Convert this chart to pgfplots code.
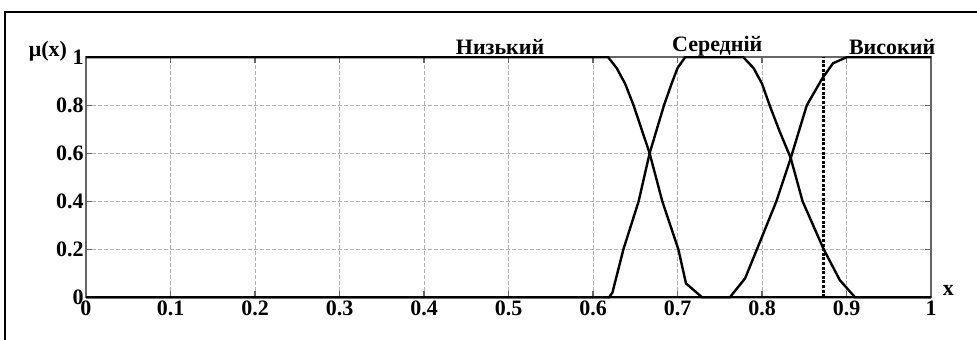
\documentclass[border=0pt]{standalone}
\usepackage{pgfplots}
\pgfplotsset{compat=1.18}
\usepackage{fontspec}
\setmainfont{Liberation Serif}
\begin{document}
\begin{tikzpicture}[font=\fontsize{11}{13}\selectfont\bfseries]
\path[use as bounding box] (-43pt,-21.35pt) rectangle (445.5pt,148.65pt);
\draw[line width=0.75pt, black] (-40.5pt,-40pt) -- (-40.5pt,142.65pt) -- (470pt,142.65pt);
\begin{axis}[
  scale only axis, width=422.5pt, height=120pt,
  xmin=0, xmax=1, ymin=0, ymax=1,
  xtick={0,0.1,0.2,0.3,0.4,0.5,0.6,0.7,0.8,0.9,1},
  ytick={0,0.2,0.4,0.6,0.8,1},
  xticklabels={0,0.1,0.2,0.3,0.4,0.5,0.6,0.7,0.8,0.9,1},
  yticklabels={0,0.2,0.4,0.6,0.8,1},
  ticklabel style={font=\fontsize{11}{13}\selectfont\bfseries},
  yticklabel style={inner sep=1pt},
  xticklabel style={inner sep=1.5pt},
  grid=major,
  major grid style={black!30, line width=0.4pt, dash pattern=on 2pt off 1pt},
  axis line style={black!60, line width=0.8pt},
  tick style={black!60, line width=0.6pt},
  major tick length=3pt,
  tick align=inside,
  clip=false,
]
% Low
\addplot[black, line width=1.2pt] coordinates {
 (0,1) (0.618,1) (0.628,0.955) (0.638,0.89) (0.648,0.8) (0.667,0.6) (0.682,0.4) (0.701,0.2) (0.710,0.058) (0.729,0) (1,0)};
% Medium
\addplot[black, line width=1.2pt] coordinates {
 (0,0) (0.619,0) (0.623,0.02) (0.636,0.2) (0.654,0.4) (0.667,0.6) (0.684,0.8) (0.693,0.89) (0.700,0.955) (0.709,1)
 (0.778,1) (0.790,0.955) (0.800,0.89) (0.809,0.8) (0.821,0.69) (0.834,0.58) (0.848,0.4) (0.873,0.2) (0.892,0.072) (0.910,0) (1,0)};
% High
\addplot[black, line width=1.2pt] coordinates {
 (0,0) (0.762,0) (0.780,0.079) (0.794,0.2) (0.817,0.4) (0.834,0.58) (0.853,0.8) (0.871,0.91) (0.884,0.975) (0.900,1) (1,1)};
% vertical marker
\addplot[black, line width=1.2pt, dash pattern=on 1.5pt off 0.8pt] coordinates {(0.8726,0) (0.8726,1)};
\node at (axis cs:0.49,1.042) {Низький};
\node at (axis cs:0.747,1.046) {Середній};
\node at (axis cs:0.954,1.042) {Високий};
\node at (axis cs:-0.045,1.025) {μ(x)};
\node at (axis cs:1.0205,0.0275) {x};
\end{axis}
\end{tikzpicture}
\end{document}
